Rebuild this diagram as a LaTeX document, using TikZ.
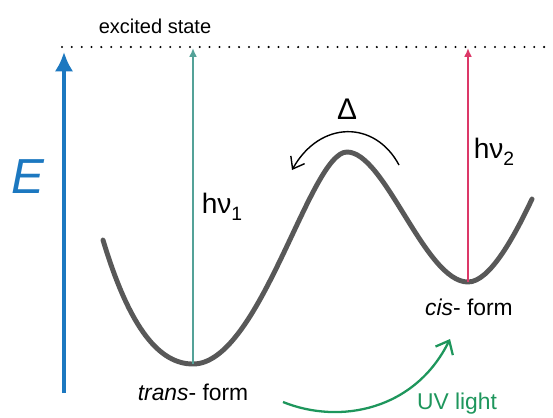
\documentclass[tikz,border=0pt]{standalone}
\usepackage{fontspec}
\setmainfont{Liberation Sans}
\usetikzlibrary{arrows.meta}
\definecolor{eblue}{RGB}{28,120,192}
\definecolor{tealline}{RGB}{84,162,152}
\definecolor{pinkline}{RGB}{220,56,104}
\definecolor{uvgreen}{RGB}{30,150,92}
\definecolor{wavegray}{RGB}{88,88,88}
\tikzset{
  lbl/.style={inner sep=0pt,font=\fontsize{13}{15}\selectfont},
  hnu/.style={inner sep=0pt,font=\fontsize{16}{18}\selectfont},
  excite/.style={line width=1.1pt,-{Latex[length=5pt,width=4.5pt]}}
}
\begin{document}
\begin{tikzpicture}[x=0.02cm,y=-0.02cm]
\useasboundingbox (0,0) rectangle (553,417);

\coordinate (lvlL) at (62,47);
\coordinate (lvlR) at (553,47);
\draw[line width=1.3pt,line cap=round,dash pattern=on 0pt off 5.6pt] (lvlL)--(lvlR);
\node[lbl,font=\fontsize{11.4}{13}\selectfont] (exc) at (155,26) {excited state};

\coordinate (ebot) at (64,393);
\coordinate (etop) at (64,52);
\draw[eblue,line width=2pt,-{Latex[length=11pt,width=10.5pt]}] (ebot)--(etop);
\node[inner sep=0pt,text=eblue,font=\fontsize{28}{30}\selectfont\itshape] (E) at (28,177) {E};

\coordinate (transmin) at (193,364);
\coordinate (cismin) at (468,282);
\coordinate (ex1) at (193,48);
\coordinate (ex2) at (468,48);
\draw[wavegray,line width=2.8pt,line cap=round]
  (103,240) .. controls (130,330) and (160,364) .. (transmin)
  .. controls (260,364) and (310,152) .. (347,152)
  .. controls (385,152) and (425,282) .. (cismin)
  .. controls (490,282) and (515,235) .. (532,199);

\draw[excite,tealline] (transmin)--(ex1);
\draw[excite,pinkline] (cismin)--(ex2);
\node[hnu] (hnu1) at (222,207) {hν\raisebox{-0.45ex}{\fontsize{11}{12}\selectfont 1}};
\node[hnu] (hnu2) at (494,152) {hν\raisebox{-0.45ex}{\fontsize{11}{12}\selectfont 2}};

\coordinate (dr) at (399,165);
\coordinate (dl) at (292,170);
\draw[line width=0.8pt,-{Straight Barb[length=6pt,width=9pt]}] (dr) .. controls (375,120) and (320,120) .. (dl);
\node[hnu,font=\fontsize{17}{18}\selectfont] (delta) at (347,109) {Δ};

\node[lbl] (trans) at (193,392) {\textit{trans}- form};
\node[lbl] (cis) at (469,307) {\textit{cis}- form};

\coordinate (uvs) at (283,402);
\coordinate (uve) at (450,339);
\draw[uvgreen,line width=1.3pt,-{Straight Barb[length=6.5pt,width=11pt]}] (uvs) .. controls (340,425) and (415,410) .. (uve);
\node[lbl,text=uvgreen] (uv) at (457,404) {UV light};
\end{tikzpicture}
\end{document}
